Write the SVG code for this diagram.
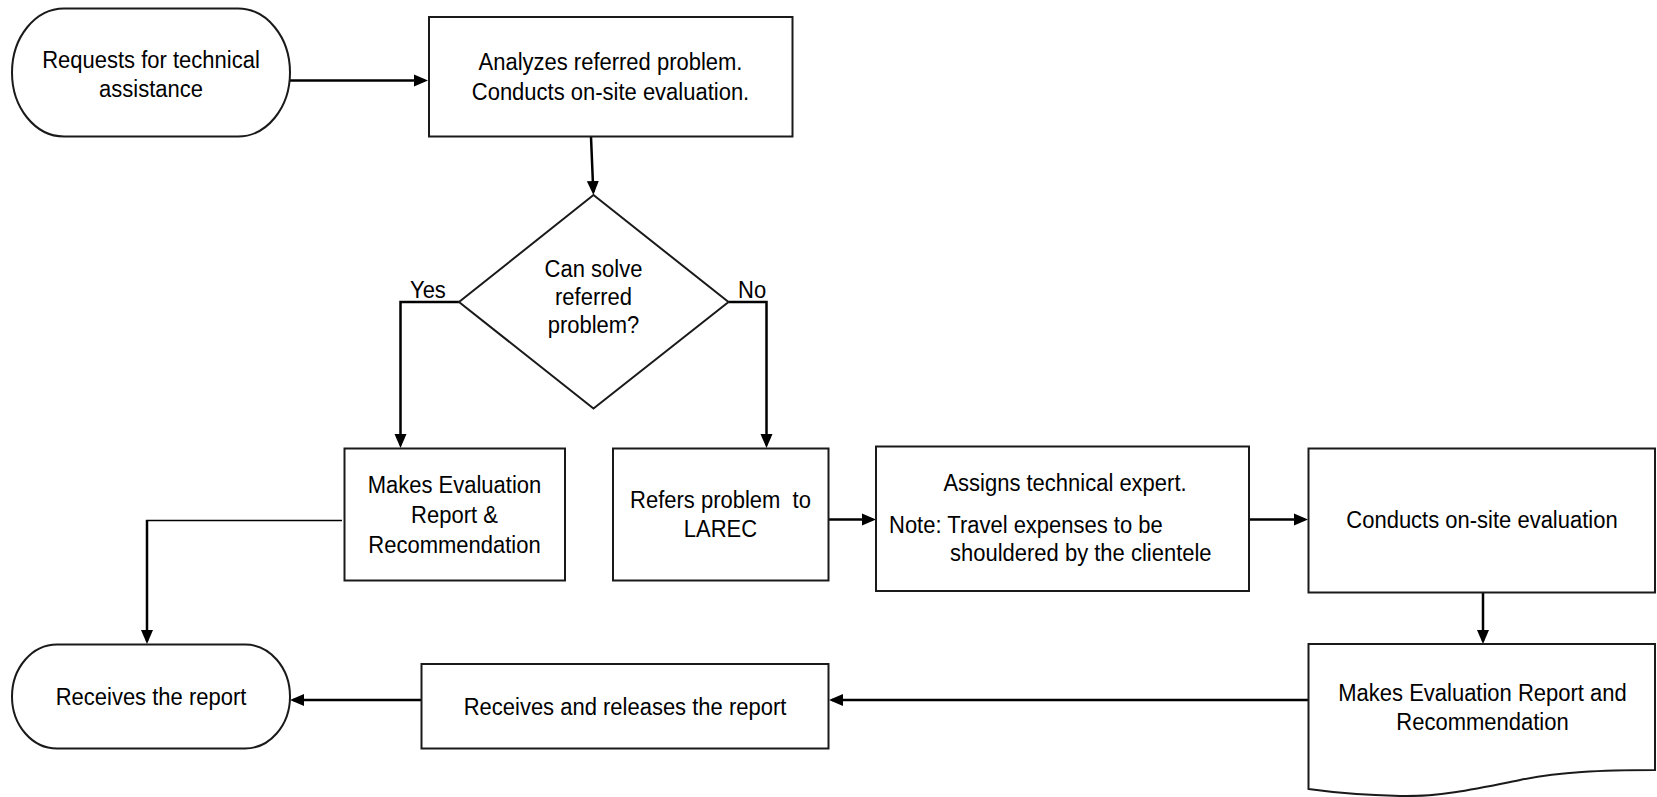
<svg xmlns="http://www.w3.org/2000/svg" width="1657" height="797" viewBox="0 0 1657 797">
<style>
.n{fill:#fff;stroke:#1a1a1a;stroke-width:2}
.c{fill:none;stroke:#000;stroke-width:2.5}
.t{font-family:"Liberation Sans",Arial,sans-serif;font-size:22px;fill:#000;text-anchor:middle}
.l{text-anchor:start}
</style>
<defs>
<marker id="ah" markerUnits="userSpaceOnUse" markerWidth="15" markerHeight="13" refX="11" refY="6.5" orient="auto">
<path d="M0,0.5 L14,6.5 L0,12.5 z" fill="#000"/>
</marker>
</defs>
<rect width="1657" height="797" fill="#fff"/>
<g id="connectors">
<path class="c" d="M290,80.5 H425" marker-end="url(#ah)"/>
<path class="c" d="M591,137 L593.3,192" marker-end="url(#ah)"/>
<path class="c" d="M459,302 H400.5 V445" marker-end="url(#ah)"/>
<path class="c" d="M728.5,302 H766.5 V445" marker-end="url(#ah)"/>
<path class="c" style="stroke-width:1.6" d="M342,520.5 H146"/>
<path class="c" d="M147,520 V641" marker-end="url(#ah)"/>
<path class="c" d="M828.5,519.5 H873" marker-end="url(#ah)"/>
<path class="c" d="M1249,519.5 H1305" marker-end="url(#ah)"/>
<path class="c" d="M1483,592.5 V641" marker-end="url(#ah)"/>
<path class="c" d="M1308,700 H832" marker-end="url(#ah)"/>
<path class="c" d="M421.5,700 H293" marker-end="url(#ah)"/>
</g>
<g id="start">
<rect class="n" x="12" y="8.5" width="278" height="128" rx="52" ry="64"/>
<text class="t" transform="translate(151,67.5) scale(1,1.12)">Requests for technical</text>
<text class="t" transform="translate(151,96.5) scale(1,1.12)">assistance</text>
</g>
<g id="analyze">
<rect class="n" x="429" y="17" width="363.5" height="119.5"/>
<text class="t" transform="translate(610.5,70) scale(1,1.12)">Analyzes referred problem.</text>
<text class="t" transform="translate(610.5,99.5) scale(1,1.12)">Conducts on-site evaluation.</text>
</g>
<g id="decision">
<polygon class="n" points="593.5,195 728.5,302 593.5,408.5 459,302"/>
<text class="t" transform="translate(593.5,276.5) scale(1,1.12)">Can solve</text>
<text class="t" transform="translate(593.5,305) scale(1,1.12)">referred</text>
<text class="t" transform="translate(593.5,333) scale(1,1.12)">problem?</text>
</g>
<g id="yes-label"><text class="t l" transform="translate(410,298) scale(1,1.12)">Yes</text></g>
<g id="no-label"><text class="t l" transform="translate(738,298) scale(1,1.12)">No</text></g>
<g id="makes-report">
<rect class="n" x="344.5" y="448.5" width="220.5" height="132"/>
<text class="t" transform="translate(454.5,492.5) scale(1,1.12)">Makes Evaluation</text>
<text class="t" transform="translate(454.5,522.5) scale(1,1.12)">Report &amp;</text>
<text class="t" transform="translate(454.5,553) scale(1,1.12)">Recommendation</text>
</g>
<g id="refers">
<rect class="n" x="613" y="448.5" width="215.5" height="132"/>
<text class="t" transform="translate(720.5,508) scale(1,1.12)" xml:space="preserve">Refers problem  to</text>
<text class="t" transform="translate(720.5,537) scale(1,1.12)">LAREC</text>
</g>
<g id="assigns">
<rect class="n" x="876" y="446.5" width="373" height="144.5"/>
<text class="t" transform="translate(1065,490.5) scale(1,1.12)">Assigns technical expert.</text>
<text class="t l" transform="translate(889,533) scale(1,1.12)">Note: Travel expenses to be</text>
<text class="t l" transform="translate(950,561) scale(1,1.12)">shouldered by the clientele</text>
</g>
<g id="conducts">
<rect class="n" x="1308.5" y="448.5" width="346.5" height="144"/>
<text class="t" transform="translate(1482,528) scale(1,1.12)">Conducts on-site evaluation</text>
</g>
<g id="makes-doc">
<path class="n" d="M1308.5,644 H1655 V770 C1600,770 1560,772 1520,780 C1480,788 1440,797 1400,796 C1360,795 1330,792 1308.5,789 Z"/>
<text class="t" transform="translate(1482.5,700.5) scale(1,1.12)">Makes Evaluation Report and</text>
<text class="t" transform="translate(1482.5,730) scale(1,1.12)">Recommendation</text>
</g>
<g id="releases">
<rect class="n" x="421.5" y="664" width="407" height="84.5"/>
<text class="t" transform="translate(625,715) scale(1,1.12)">Receives and releases the report</text>
</g>
<g id="receives">
<rect class="n" x="12" y="644.5" width="278" height="104" rx="45" ry="52"/>
<text class="t" transform="translate(151,705) scale(1,1.12)">Receives the report</text>
</g>
</svg>
